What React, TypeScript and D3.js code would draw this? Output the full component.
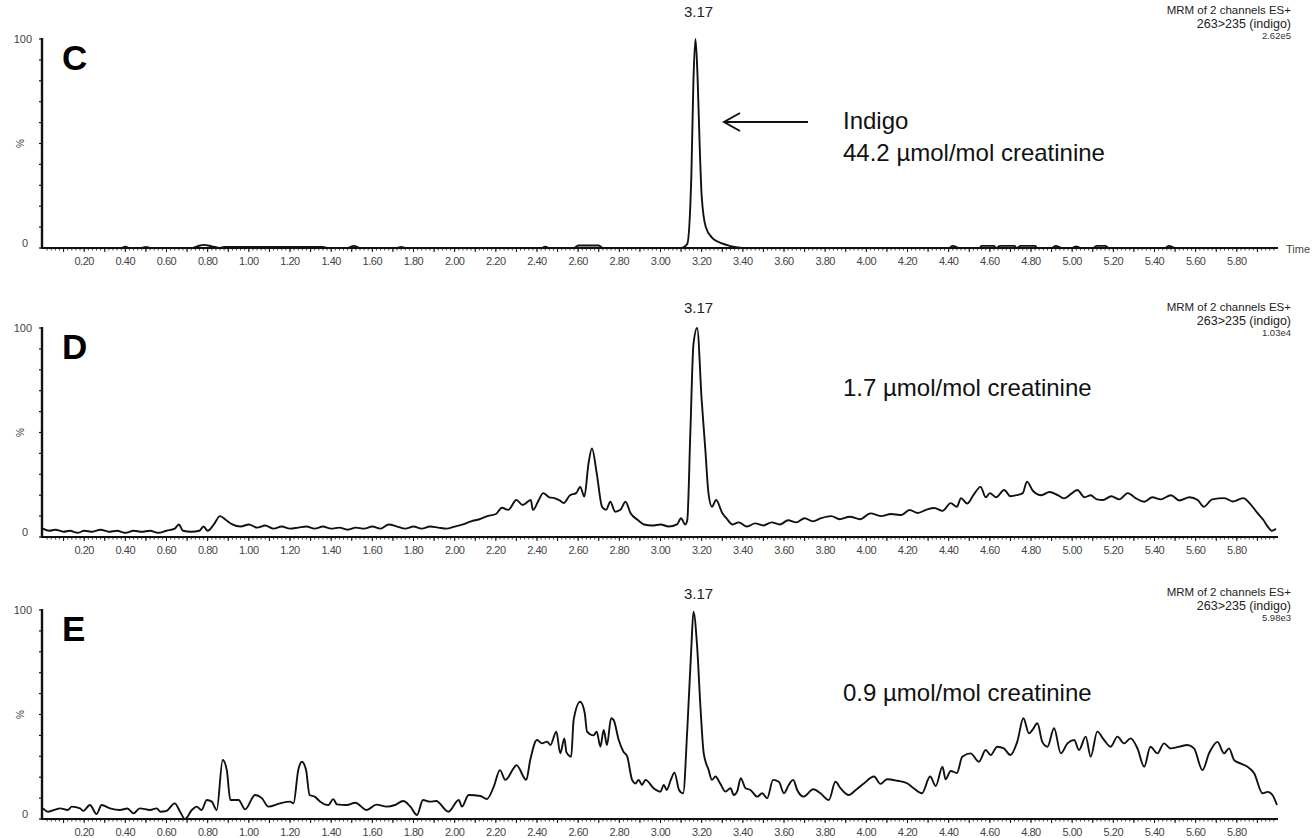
import React from 'react';
import * as d3 from 'd3';

const xTickLabels = ['0.20','0.40','0.60','0.80','1.00','1.20','1.40','1.60','1.80','2.00','2.20','2.40','2.60','2.80','3.00','3.20','3.40','3.60','3.80','4.00','4.20','4.40','4.60','4.80','5.00','5.20','5.40','5.60','5.80'];
const yTickLabels = ['0', '100'];
const panelLetters = ['C', 'D', 'E'];
const peakLabels = ['3.17', '3.17', '3.17'];
const peakTimes = [3.17, 3.17, 3.17];
const intensityLabels = ['2.62e5', '1.03e4', '5.98e3'];
const amountLabels = ['44.2 µmol/mol creatinine', '1.7 µmol/mol creatinine', '0.9 µmol/mol creatinine'];
const headerLine1 = 'MRM of 2 channels  ES+';
const headerLine2 = '263>235 (indigo)';
const compoundLabel = 'Indigo';

const traceC: [number, number][] = [
  [0,0],[0.38,0],[0.4,0.6],[0.42,0],[0.48,0],[0.5,0.5],[0.52,0],[0.72,0],[0.75,0.8],[0.78,1.5],[0.82,0.8],[0.86,0],[0.88,0.5],[1.36,0.5],[1.38,0],[1.48,0],[1.51,1],[1.54,0],[1.72,0],[1.74,0.5],[1.76,0],[2.42,0],[2.44,0.6],[2.46,0],[2.58,0],[2.6,1.2],[2.7,1.2],[2.72,0],[3.1,0],[3.13,2],[3.15,35],[3.16,80],[3.17,100],[3.18,82],[3.19,50],[3.2,25],[3.22,10],[3.25,5],[3.28,3],[3.32,1.5],[3.36,0.5],[3.4,0],[4.4,0],[4.42,1],[4.45,0],[4.55,0],[4.56,1],[4.62,1],[4.63,0],[4.65,1],[4.72,1],[4.73,0],[4.75,1],[4.82,1],[4.83,0],[4.9,0],[4.92,1],[4.95,0],[5.0,0],[5.02,0.8],[5.04,0],[5.1,0],[5.12,1],[5.16,1],[5.18,0],[5.45,0],[5.47,1],[5.5,0],[5.99,0]
];

const traceD: [number, number][] = [
  [0,4],[0.03,3],[0.06,3.5],[0.1,2.5],[0.13,3],[0.17,2],[0.2,3],[0.24,2.5],[0.28,3.5],[0.32,2.5],[0.36,3],[0.4,2],[0.44,3],[0.48,2.5],[0.52,3],[0.56,2],[0.6,3],[0.64,4],[0.66,6],[0.68,3],[0.72,2.5],[0.76,3],[0.78,5],[0.8,3],[0.83,6],[0.86,10],[0.89,8],[0.92,6],[0.96,5],[1.0,6],[1.04,4.5],[1.08,5.5],[1.12,4],[1.16,5],[1.2,4],[1.24,4.5],[1.28,5],[1.32,4],[1.36,5],[1.4,4],[1.44,4.5],[1.48,3.5],[1.52,4.5],[1.56,4],[1.6,5],[1.64,4],[1.68,6],[1.72,5],[1.76,4],[1.8,5],[1.84,4],[1.88,5],[1.92,4.5],[1.96,4],[2.0,5],[2.04,6],[2.08,7.5],[2.12,8.5],[2.16,10],[2.2,11],[2.23,14],[2.26,13],[2.3,17.7],[2.33,15.3],[2.37,17.7],[2.38,12.9],[2.41,18],[2.43,21],[2.46,19],[2.48,18.7],[2.51,17.5],[2.53,16.3],[2.56,20],[2.59,21],[2.61,24],[2.63,19.3],[2.65,35],[2.667,42.4],[2.69,30.6],[2.716,14.5],[2.736,13],[2.756,16.9],[2.78,12.1],[2.805,13],[2.83,16.9],[2.854,11.5],[2.89,8.1],[2.92,6],[2.96,5.5],[3.0,6],[3.04,5],[3.08,6],[3.1,9],[3.12,6],[3.13,8],[3.145,50],[3.16,92],[3.178,100],[3.2,65.5],[3.218,41.6],[3.233,21],[3.25,14.5],[3.27,17.7],[3.3,11.5],[3.32,9],[3.35,6],[3.38,7],[3.42,5],[3.46,6.5],[3.5,5.5],[3.54,7],[3.58,6],[3.62,8],[3.66,7],[3.7,9],[3.74,7.5],[3.78,9],[3.83,10],[3.87,8.5],[3.92,9.7],[3.97,8.5],[4.02,11.3],[4.07,10],[4.12,11],[4.17,10.5],[4.21,12.9],[4.25,11.5],[4.29,13],[4.33,13.9],[4.37,12.5],[4.41,16.2],[4.44,14.5],[4.46,18.6],[4.49,16],[4.52,20],[4.555,24],[4.58,19],[4.6,21],[4.63,19],[4.67,22.5],[4.7,19.5],[4.73,20],[4.76,21],[4.78,26.5],[4.81,22],[4.85,20],[4.89,21.5],[4.93,20],[4.96,18.5],[5.0,21],[5.025,22.5],[5.06,19],[5.09,20],[5.12,18],[5.15,17.7],[5.19,19.5],[5.23,18],[5.27,21],[5.31,18.5],[5.35,16.9],[5.39,19],[5.43,18],[5.48,20],[5.52,17.5],[5.57,19],[5.61,17.7],[5.64,14.5],[5.68,18],[5.74,18.6],[5.78,17],[5.83,18.6],[5.87,15.3],[5.9,11.5],[5.93,8],[5.95,5],[5.97,3],[5.99,4]
];

const traceE: [number, number][] = [
  [0,5.1],[0.025,3.5],[0.06,4.5],[0.083,5.1],[0.12,4.3],[0.14,5.9],[0.18,5.1],[0.196,3.9],[0.228,6.7],[0.26,2.4],[0.285,6.7],[0.326,5.1],[0.374,4.3],[0.41,5],[0.44,2.7],[0.47,5.1],[0.52,4.3],[0.553,5.1],[0.57,3.5],[0.6,3.9],[0.64,7.5],[0.666,3.5],[0.69,0],[0.723,4.3],[0.747,5.9],[0.77,4.3],[0.796,9.1],[0.82,8.3],[0.844,4.3],[0.873,28.2],[0.893,23.4],[0.91,9.1],[0.95,9.1],[0.982,4.6],[1.03,11.5],[1.063,10],[1.095,5.9],[1.152,7.5],[1.2,8.3],[1.217,7.5],[1.24,23.4],[1.258,27.4],[1.278,23.4],[1.295,11.5],[1.32,10.7],[1.347,8.3],[1.387,6.7],[1.41,9.5],[1.428,7],[1.476,6.7],[1.517,7.8],[1.573,4.3],[1.62,6.9],[1.67,5.9],[1.71,6.7],[1.75,8.6],[1.785,5.9],[1.817,1.9],[1.846,9.1],[1.88,8.3],[1.91,8.6],[1.97,3.5],[2.02,9.1],[2.035,5.9],[2.068,11.5],[2.125,11],[2.157,9.6],[2.19,15.5],[2.22,23.4],[2.246,18.7],[2.286,24.2],[2.3,25.8],[2.348,18.7],[2.367,28.2],[2.4,37.8],[2.424,36.2],[2.449,37],[2.465,35.4],[2.494,41.8],[2.513,31.4],[2.533,38.6],[2.543,32],[2.566,29.8],[2.578,47.4],[2.61,56.1],[2.632,50.6],[2.643,41.8],[2.675,40],[2.69,41.8],[2.708,34.6],[2.724,42.6],[2.74,35.4],[2.76,48.2],[2.772,47.4],[2.797,37.8],[2.82,32.2],[2.838,30],[2.862,18.7],[2.878,17],[2.894,18.7],[2.91,16.3],[2.927,18.7],[2.967,14.7],[3.0,13.1],[3.016,16.3],[3.03,13.9],[3.05,18.7],[3.068,22.2],[3.09,13.9],[3.11,12.3],[3.13,42.6],[3.15,82.5],[3.16,99.2],[3.178,82.5],[3.194,53.7],[3.21,31.4],[3.234,23.4],[3.25,18.7],[3.267,20.3],[3.29,17],[3.316,13.1],[3.34,14.7],[3.356,11.5],[3.372,13.1],[3.39,19.5],[3.413,14.7],[3.437,13.9],[3.47,10.7],[3.494,12.3],[3.518,9.9],[3.547,18.7],[3.575,17.8],[3.6,12.3],[3.623,16.3],[3.645,18.7],[3.664,13.9],[3.696,10.7],[3.742,14.2],[3.777,12.3],[3.818,9.1],[3.85,17.8],[3.875,14.7],[3.915,11.5],[3.95,14],[3.988,17],[4.037,20.3],[4.069,16.8],[4.1,19],[4.15,18.3],[4.2,17],[4.23,14.7],[4.27,12.3],[4.31,20.3],[4.337,15.8],[4.37,25],[4.385,19],[4.41,23],[4.44,22],[4.466,29.8],[4.506,31.4],[4.547,27.4],[4.58,33],[4.604,30.6],[4.636,34.6],[4.668,33.8],[4.7,30.6],[4.733,36.9],[4.763,48.2],[4.79,41],[4.807,42.6],[4.831,45.8],[4.855,36.9],[4.88,34.6],[4.912,43.4],[4.945,31.4],[4.977,36.2],[5.01,37.8],[5.033,33],[5.066,39.4],[5.09,29.8],[5.122,41.8],[5.155,37.8],[5.187,34.6],[5.22,39.4],[5.252,36.2],[5.284,38.6],[5.317,33.8],[5.35,25],[5.38,34.6],[5.414,31.4],[5.446,36.2],[5.478,33.8],[5.52,34.6],[5.56,35.4],[5.592,33.8],[5.633,23.4],[5.665,31.4],[5.706,36.9],[5.738,31.4],[5.762,33.8],[5.787,28.2],[5.82,26.5],[5.852,25],[5.884,21.9],[5.925,12.3],[5.95,13],[5.973,11.5],[5.995,6.7]
];

const traces = [traceC, traceD, traceE];

const W = 1313;
const H = 838;
const FONT = "'Liberation Sans', Arial, sans-serif";
const panelTops = [39, 328, 610];
const panelBottoms = [248, 537, 819];
const amountY = [161, 396, 701];
const headerY = [14, 311, 596];
const peakLabelY = [17, 313, 599];

const x = d3.scaleLinear().domain([0, 6.0]).range([43, 1278]);
const minorTicks = d3.range(1, 300).map((i) => i * 0.02);
const majorTicks = d3.range(1, 60).map((i) => i * 0.1);

function Panel({ idx }: { idx: number }) {
  const y = d3.scaleLinear().domain([0, 100]).range([panelBottoms[idx], panelTops[idx]]);
  const line = d3
    .line<[number, number]>()
    .x((d) => x(d[0]))
    .y((d) => y(d[1]))
    .curve(d3.curveMonotoneX);
  const x0 = x(0);
  const yTicks = d3.range(0, 101, 10);
  const ink = '#111';
  const grey = '#444';
  return (
    <g>
      <path d={line(traces[idx]) || ''} fill="none" stroke={ink} strokeWidth={1.9} strokeLinejoin="round" />
      <line x1={x0 - 1} x2={x0 - 1} y1={y(100) - 1} y2={y(0) + 1} stroke={ink} strokeWidth={2.4} />
      {yTicks.map((t) => (
        <line key={'yt' + t} x1={x0 - 4} x2={x0 - 1} y1={y(t)} y2={y(t)} stroke={ink} strokeWidth={1.2} />
      ))}
      <text x={32} y={y(100) + 4} fontSize={11} fill={grey} textAnchor="end" fontFamily={FONT}>{yTickLabels[1]}</text>
      <text x={28} y={y(0) - 1} fontSize={11} fill={grey} textAnchor="end" fontFamily={FONT}>{yTickLabels[0]}</text>
      <text transform={`translate(24,${y(50)}) rotate(-90)`} fontSize={10} fill={grey} textAnchor="middle" fontFamily={FONT}>%</text>
      <line x1={x0 - 2} x2={x(6.0)} y1={y(0)} y2={y(0)} stroke={ink} strokeWidth={2} />
      {minorTicks.map((t, i) => (
        <line key={'mt' + i} x1={x(t)} x2={x(t)} y1={y(0)} y2={y(0) + 2.5} stroke={ink} strokeWidth={0.8} />
      ))}
      {majorTicks.map((t, i) => (
        <line key={'Mt' + i} x1={x(t)} x2={x(t)} y1={y(0)} y2={y(0) + 4} stroke={ink} strokeWidth={1} />
      ))}
      {xTickLabels.map((lab) => (
        <text key={'xl' + lab} x={x(+lab)} y={y(0) + 17} fontSize={11} fill={grey} textAnchor="middle" fontFamily={FONT} letterSpacing={-0.5}>{lab}</text>
      ))}
      {idx === 0 && (
        <text x={1286} y={y(0) + 5} fontSize={11} fill={grey} fontFamily={FONT}>Time</text>
      )}
      <text x={62} y={y(100) + 31} fontSize={35} fontWeight="bold" fill="#000" fontFamily={FONT}>{panelLetters[idx]}</text>
      <text x={x(peakTimes[idx]) + 3} y={peakLabelY[idx]} fontSize={15} fill="#222" textAnchor="middle" fontFamily={FONT}>{peakLabels[idx]}</text>
      <text x={1291} y={headerY[idx]} fontSize={11.5} fill="#222" textAnchor="end" fontFamily={FONT}>{headerLine1}</text>
      <text x={1291} y={headerY[idx] + 13.5} fontSize={12.5} fill="#222" textAnchor="end" fontFamily={FONT}>{headerLine2}</text>
      <text x={1291} y={headerY[idx] + 24.5} fontSize={9.5} fill="#333" textAnchor="end" fontFamily={FONT}>{intensityLabels[idx]}</text>
      {idx === 0 && (
        <g>
          <text x={843} y={amountY[0] - 32} fontSize={24} fill="#111" fontFamily={FONT}>{compoundLabel}</text>
          <line x1={724} x2={808} y1={122} y2={122} stroke={ink} strokeWidth={2} />
          <polyline points="740,113 724,122 740,131" fill="none" stroke={ink} strokeWidth={2} />
        </g>
      )}
      <text x={843} y={amountY[idx]} fontSize={24} fill="#111" fontFamily={FONT}>{amountLabels[idx]}</text>
    </g>
  );
}

export default function App() {
  return (
    <svg width={W} height={H} style={{ position: 'absolute', left: 0, top: 0, background: '#fff' }}>
      <rect width={W} height={H} fill="#fff" />
      {[0, 1, 2].map((i) => (
        <Panel key={i} idx={i} />
      ))}
    </svg>
  );
}
